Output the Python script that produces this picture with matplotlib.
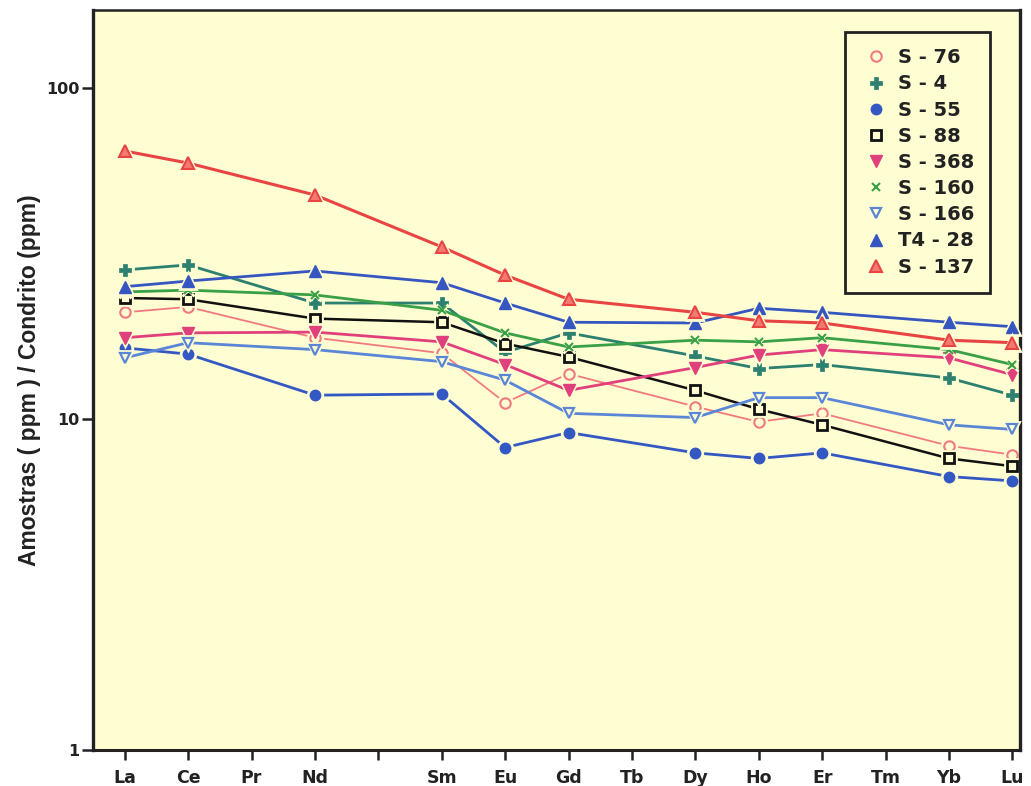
import numpy as np
import matplotlib
matplotlib.use("Agg")
import matplotlib.pyplot as plt
from matplotlib.lines import Line2D

nan = np.nan

# Rare earth elements (Pm position kept as an unlabelled gap)
elements = ["La", "Ce", "Pr", "Nd", "", "Sm", "Eu", "Gd", "Tb", "Dy", "Ho", "Er", "Tm", "Yb", "Lu"]

# Chondrite-normalised values per sample (NaN = not analysed)
s76   = [21.0, 21.8, nan, 17.6, nan, 15.8, 11.2, 13.7, nan, 10.9, 9.8, 10.4, nan, 8.3, 7.8]
s4    = [28.2, 29.2, nan, 22.4, nan, 22.4, 15.9, 18.2, nan, 15.5, 14.2, 14.6, nan, 13.3, 11.8]
s55   = [16.4, 15.7, nan, 11.8, nan, 11.9, 8.2, 9.1, nan, 7.9, 7.6, 7.9, nan, 6.7, 6.5]
s88   = [23.2, 23.0, nan, 20.1, nan, 19.6, 16.9, 15.4, nan, 12.2, 10.7, 9.6, nan, 7.6, 7.2]
s368  = [17.6, 18.2, nan, 18.3, nan, 17.1, 14.6, 12.2, nan, 14.3, 15.6, 16.2, nan, 15.3, 13.6]
s160  = [24.2, 24.5, nan, 23.7, nan, 21.3, 18.2, 16.5, nan, 17.3, 17.1, 17.6, nan, 16.2, 14.6]
s166  = [15.3, 17.0, nan, 16.2, nan, 14.9, 13.1, 10.4, nan, 10.1, 11.6, 11.6, nan, 9.6, 9.3]
t4_28 = [25.1, 26.1, nan, 28.0, nan, 25.8, 22.4, 19.6, nan, 19.5, 21.6, 21.0, nan, 19.6, 19.0]
s137  = [64.5, 59.3, nan, 47.5, nan, 33.1, 27.2, 23.0, nan, 21.0, 19.8, 19.5, nan, 17.3, 17.0]

BG = "#fffdd2"
INK = "#222222"

# label, values, color, marker, facecolor, line width, marker size, edge width
series = [
    ("S - 76",  s76,   "#f07a80", "o", "none",    1.3, 7.5, 1.5),
    ("S - 4",   s4,    "#2c8070", "P", "#2c8070", 2.0, 8.0, 0.5),
    ("S - 55",  s55,   "#3358c4", "o", "#3358c4", 2.0, 7.5, 1.0),
    ("S - 88",  s88,   "#111111", "s", "none",    1.8, 6.5, 2.0),
    ("S - 368", s368,  "#e0407c", "v", "#e0407c", 2.0, 8.0, 1.0),
    ("S - 160", s160,  "#3aa048", "x", "#3aa048", 2.0, 5.5, 1.5),
    ("S - 166", s166,  "#5a86d8", "v", "none",    2.0, 7.5, 1.6),
    ("T4 - 28", t4_28, "#3556c0", "^", "#3556c0", 2.0, 8.0, 1.0),
    ("S - 137", s137,  "#e84444", "^", "#f27a70", 2.2, 8.0, 1.5),
]

plt.rcParams["font.family"] = ["DejaVu Sans"]
plt.rcParams["font.weight"] = "bold"

fig = plt.figure(figsize=(10.31, 7.86), dpi=100)
ax = fig.add_axes([0.0902, 0.0458, 0.8991, 0.9415])
ax.set_facecolor(BG)

x = np.arange(len(elements))
handles = []
for i, (lab, vals, col, mk, fc, lw, ms, mew) in enumerate(series):
    v = np.asarray(vals, dtype=float)
    m = ~np.isnan(v)
    z = 2 + i * 0.1
    ax.plot(x[m], v[m], color=col, lw=lw, zorder=z, solid_capstyle="butt")
    # background halo so the line stops short of each marker
    ax.plot(x[m], v[m], ls="none", marker=mk, ms=ms + 3, mfc=BG, mec=BG,
            mew=2, zorder=z + 0.01, clip_on=False)
    ax.plot(x[m], v[m], ls="none", marker=mk, ms=ms, mfc=fc, mec=col,
            mew=mew, zorder=z + 0.02, clip_on=False)
    handles.append(Line2D([], [], ls="none", marker=mk, ms=ms, mfc=fc, mec=col,
                          mew=mew, label=lab))

ax.set_yscale("log")
ax.set_ylim(1, 172)
ax.set_xlim(-0.5, 14.12)
ax.set_yticks([1, 10, 100])
ax.set_yticklabels(["1", "10", "100"])
ax.yaxis.set_minor_locator(matplotlib.ticker.NullLocator())
ax.set_xticks(x)
ax.set_xticklabels(elements)

ax.tick_params(axis="both", which="major", direction="out", width=1.8, color=INK)
ax.tick_params(axis="x", length=7, pad=7, labelsize=12.5)
ax.tick_params(axis="y", length=8, pad=2, labelsize=11.5)
for t in ax.get_xticklabels() + ax.get_yticklabels():
    t.set_fontweight("bold")
    t.set_color(INK)

for side, w in (("left", 2.4), ("bottom", 2.2), ("top", 1.8), ("right", 2.4)):
    ax.spines[side].set_linewidth(w)
    ax.spines[side].set_color(INK)

ax.set_ylabel("Amostras ( ppm ) / Condrito (ppm)", fontsize=16.5, fontweight="bold",
              color=INK, family=["Liberation Sans", "DejaVu Sans"])
ax.yaxis.set_label_coords(-0.056, 0.5)

leg = ax.legend(handles=handles, loc="upper right", bbox_to_anchor=(0.968, 0.970),
                borderaxespad=0, fancybox=False, facecolor=BG, edgecolor=INK,
                framealpha=1, handlelength=1.5, handletextpad=0.4, labelspacing=0.37,
                borderpad=0.82, fontsize=14, numpoints=1)
leg.get_frame().set_linewidth(2.0)
for t in leg.get_texts():
    t.set_fontweight("bold")
    t.set_color(INK)

fig.savefig("out.png", dpi=100, facecolor="white")
